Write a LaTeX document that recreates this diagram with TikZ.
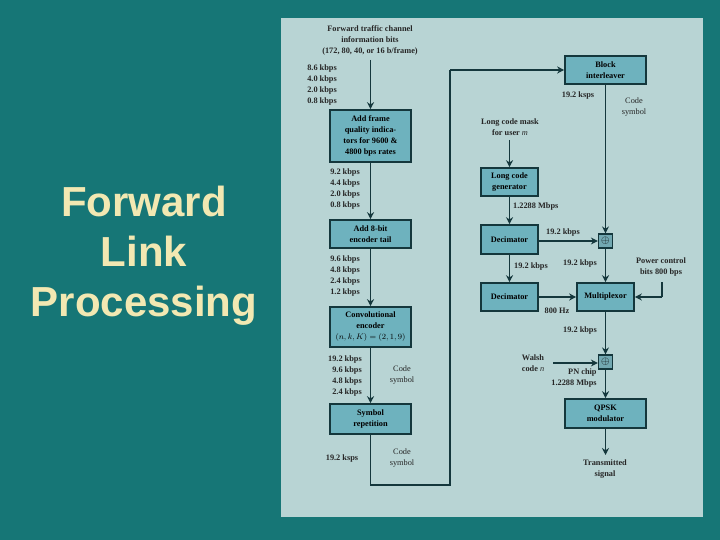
\documentclass[tikz,border=0pt]{standalone}
\usepackage{fontspec}
\setmainfont{Liberation Serif}
\newfontfamily\titlefont{Liberation Sans}
\usetikzlibrary{arrows.meta}
\definecolor{bgteal}{RGB}{22,118,118}
\definecolor{panel}{RGB}{184,212,212}
\definecolor{boxfill}{RGB}{110,178,190}
\definecolor{boxline}{RGB}{20,55,60}
\definecolor{titlecol}{RGB}{242,232,178}
\begin{document}
\begin{tikzpicture}[x=1pt,y=-1pt,
  txt/.style={font=\bfseries\fontsize{8.3}{11}\selectfont,text=black!85,align=center,inner sep=0pt},
  blk/.style={draw=boxline,line width=1.6pt,fill=boxfill,font=\bfseries\fontsize{8.3}{11}\selectfont,align=center,inner sep=0pt},
  xorbox/.style={draw=boxline,line width=1.2pt,fill=boxfill!80!gray,minimum size=14pt,inner sep=0pt,font=\fontsize{11}{11}\selectfont},
  ln/.style={draw=boxline,line width=1.7pt},
  arr/.style={ln,-{Stealth[length=7pt,width=7pt]}}]
\useasboundingbox (0,0) rectangle (720,540);
\fill[bgteal] (0,0) rectangle (720,540);
\fill[panel] (281,18) rectangle (703,517);
% title
\node[font=\titlefont\bfseries\fontsize{42}{50}\selectfont,text=titlecol,align=center] (title) at (144,256) {Forward\\Link\\Processing};
% left column
\node[txt] (top) at (370,40) {Forward traffic channel\\information bits\\(172, 80, 40, or 16 b/frame)};
\node[txt,align=right,anchor=east] (r1) at (337,85) {8.6 kbps\\4.0 kbps\\2.0 kbps\\0.8 kbps};
\node[blk,minimum width=81pt,minimum height=52pt] (b1) at (370.5,136) {Add frame\\quality indica-\\tors for 9600 \&\\4800 bps rates};
\node[txt,align=right,anchor=east] (r2) at (360,189) {9.2 kbps\\4.4 kbps\\2.0 kbps\\0.8 kbps};
\node[blk,minimum width=81pt,minimum height=28pt] (b2) at (370.5,234) {Add 8-bit\\encoder tail};
\node[txt,align=right,anchor=east] (r3) at (360,276) {9.6 kbps\\4.8 kbps\\2.4 kbps\\1.2 kbps};
\node[blk,minimum width=81pt,minimum height=40pt] (b3) at (370.5,327) {Convolutional\\encoder\\\normalfont$(n,k,K)=(2,1,9)$};
\node[txt,align=right,anchor=east] (r4) at (362,376) {19.2 kbps\\9.6 kbps\\4.8 kbps\\2.4 kbps};
\node[txt,font=\fontsize{8.3}{11}\selectfont] (cs1) at (402,375) {Code\\symbol};
\node[blk,minimum width=81pt,minimum height=30pt] (b4) at (370.5,419) {Symbol\\repetition};
\node[txt] (r5) at (342,459) {19.2 ksps};
\node[txt,font=\fontsize{8.3}{11}\selectfont] (cs2) at (402,458) {Code\\symbol};
\coordinate (c1) at (370.5,485);
\coordinate (c2) at (450,485);
\coordinate (c3) at (450,70);
\draw[arr] (370.5,60) -- (b1);
\draw[arr] (b1) -- (b2);
\draw[arr] (b2) -- (b3);
\draw[arr] (b3) -- (b4);
% right column
\node[blk,minimum width=81pt,minimum height=28pt] (bi) at (605.5,70) {Block\\interleaver};
\draw[ln] (b4.south) -- (c1) -- (c2) -- (c3);
\draw[arr] (c3) -- (bi.west);
\node[txt] (r6) at (578,96) {19.2 ksps};
\node[txt,font=\fontsize{8.3}{11}\selectfont] (cs3) at (634,107) {Code\\symbol};
\node[txt] (lcm) at (510,127) {Long code mask\\for user \normalfont\itshape m};
\node[blk,minimum width=57pt,minimum height=28pt] (lcg) at (509.5,182) {Long code\\generator};
\node[txt,anchor=west] (r7) at (513,207) {1.2288 Mbps};
\node[blk,minimum width=57pt,minimum height=29pt] (d1) at (509.5,239.5) {Decimator};
\node[xorbox] (x1) at (605.5,241) {$\oplus$};
\node[txt] (r8) at (563,233) {19.2 kbps};
\node[txt] (r9) at (531,267) {19.2 kbps};
\node[txt] (r10) at (580,264) {19.2 kbps};
\node[blk,minimum width=57pt,minimum height=28pt] (d2) at (509.5,297) {Decimator};
\node[blk,minimum width=57pt,minimum height=28pt] (mux) at (605.5,297) {Multiplexor};
\node[txt] (r11) at (557,311) {800 Hz};
\node[txt] (pc) at (661,267) {Power control\\bits 800 bps};
\coordinate (p1) at (662,282);
\coordinate (p2) at (662,297);
\node[txt] (r12) at (580,331) {19.2 kbps};
\node[xorbox] (x2) at (605.5,362) {$\oplus$};
\node[txt] (wc) at (533,363) {Walsh\\code \normalfont\itshape n};
\coordinate (w1) at (553,363);
\node[txt,align=right] (pn) at (574,378) {PN chip\\1.2288 Mbps};
\node[blk,minimum width=81pt,minimum height=29pt] (qp) at (605.5,413.5) {QPSK\\modulator};
\coordinate (tsend) at (605.5,455);
\node[txt] (ts) at (605,469.5) {Transmitted\\signal};
\draw[arr] (509.5,140) -- (lcg);
\draw[arr] (lcg) -- (d1);
\draw[arr] (bi) -- (x1);
\draw[arr] (d1.east |- x1) -- (x1);
\draw[arr] (d1) -- (d2);
\draw[arr] (d2) -- (mux);
\draw[arr] (x1) -- (mux);
\draw[ln] (p1) -- (p2);
\draw[arr] (p2) -- (mux.east);
\draw[arr] (mux) -- (x2);
\draw[arr] (w1) -- (w1 -| x2.west);
\draw[arr] (x2) -- (qp);
\draw[arr] (qp) -- (tsend);
\end{tikzpicture}
\end{document}
